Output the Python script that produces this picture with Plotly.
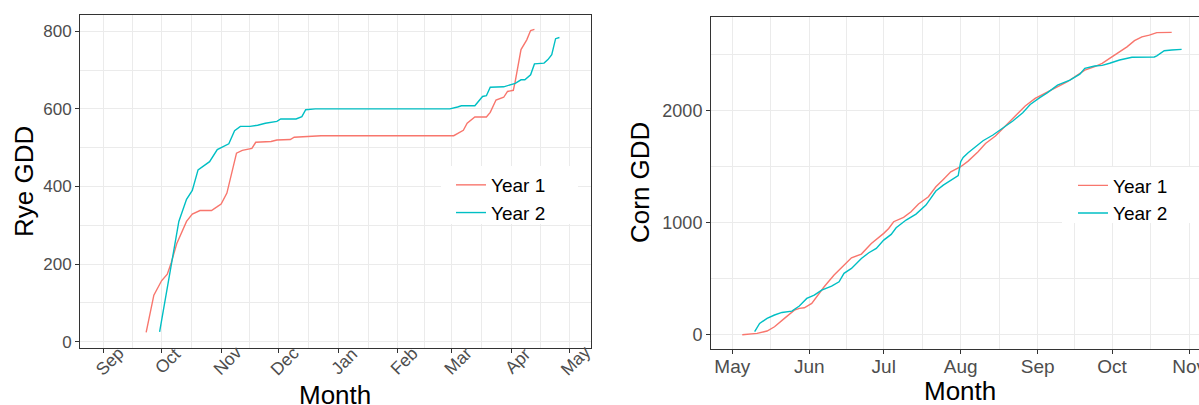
import plotly.graph_objects as go
import pandas as pd

# ---------------- data ----------------
# Rye (season Sep -> May), dates placed on a common dummy season 2000-2001
rye_y1_dates = ["2000-09-23","2000-09-27","2000-10-01","2000-10-04","2000-10-06","2000-10-09",
                "2000-10-14","2000-10-17","2000-10-21","2000-10-27","2000-10-30","2000-11-01",
                "2000-11-04","2000-11-06","2000-11-09","2000-11-12","2000-11-17","2000-11-19",
                "2000-11-27","2000-11-30","2000-12-07","2000-12-09","2000-12-21","2000-12-23",
                "2001-03-02","2001-03-05","2001-03-07","2001-03-09","2001-03-13","2001-03-19",
                "2001-03-21","2001-03-24","2001-03-28","2001-03-30","2001-04-02","2001-04-03",
                "2001-04-06","2001-04-09","2001-04-11","2001-04-13"]
rye_y1_gdd = [24,120,157,174,203,254,
              310,329,338,338,348,355,
              383,426,486,493,498,514,
              516,520,521,527,529,531,
              531,539,545,563,579,579,
              591,623,630,645,648,671,
              753,778,802,805]

rye_y2_dates = ["2000-09-30","2000-10-05","2000-10-08","2000-10-10","2000-10-14","2000-10-17",
                "2000-10-20","2000-10-23","2000-10-26","2000-10-30","2000-11-02","2000-11-05",
                "2000-11-08","2000-11-11","2000-11-16","2000-11-20","2000-11-24","2000-11-30",
                "2000-12-02","2000-12-10","2000-12-13","2000-12-15","2000-12-20","2001-02-28",
                "2001-03-04","2001-03-06","2001-03-13","2001-03-15","2001-03-17","2001-03-19",
                "2001-03-21","2001-03-28","2001-04-01","2001-04-03","2001-04-06","2001-04-08",
                "2001-04-11","2001-04-13","2001-04-18","2001-04-20","2001-04-22","2001-04-24",
                "2001-04-26"]
rye_y2_gdd = [25,168,245,310,367,390,
              443,453,464,495,502,510,
              544,555,555,558,563,568,
              574,574,580,598,600,600,
              605,608,608,619,632,634,
              656,657,662,666,675,675,
              688,716,718,727,740,781,
              784]

# Corn (season May -> Nov), common dummy year 2001
corn_y1_dates = ["2001-05-05","2001-05-08","2001-05-11","2001-05-15","2001-05-18","2001-05-22",
                 "2001-05-26","2001-05-28","2001-05-30","2001-06-02","2001-06-04","2001-06-07",
                 "2001-06-11","2001-06-15","2001-06-18","2001-06-22","2001-06-26","2001-07-01",
                 "2001-07-03","2001-07-05","2001-07-09","2001-07-12","2001-07-15","2001-07-19",
                 "2001-07-22","2001-07-25","2001-07-28","2001-08-01","2001-08-04","2001-08-08",
                 "2001-08-11","2001-08-15","2001-08-19","2001-08-23","2001-08-27","2001-08-31",
                 "2001-09-04","2001-09-09","2001-09-13","2001-09-17","2001-09-20","2001-09-24",
                 "2001-09-27","2001-09-30","2001-10-03","2001-10-07","2001-10-10","2001-10-13",
                 "2001-10-16","2001-10-19","2001-10-25"]
corn_y1_gdd = [0,3,12,33,71,146,
               220,235,241,280,339,428,
               533,622,687,720,815,905,
               949,1009,1048,1098,1167,1232,
               1321,1387,1455,1500,1550,1634,
               1708,1774,1863,1946,2042,2110,
               2155,2208,2259,2318,2363,2393,
               2422,2467,2512,2570,2625,2660,
               2675,2697,2699]

corn_y2_dates = ["2001-05-10","2001-05-12","2001-05-15","2001-05-17","2001-05-18","2001-05-21",
                 "2001-05-25","2001-05-28","2001-05-31","2001-06-03","2001-06-06","2001-06-10",
                 "2001-06-13","2001-06-15","2001-06-18","2001-06-22","2001-06-25","2001-06-28",
                 "2001-07-01","2001-07-04","2001-07-06","2001-07-10","2001-07-14","2001-07-18",
                 "2001-07-22","2001-07-25","2001-07-31","2001-08-01","2001-08-02","2001-08-04",
                 "2001-08-07","2001-08-10","2001-08-14","2001-08-18","2001-08-22","2001-08-26",
                 "2001-08-29","2001-09-02","2001-09-05","2001-09-09","2001-09-14","2001-09-18",
                 "2001-09-20","2001-09-24","2001-09-27","2001-09-30","2001-10-04","2001-10-09",
                 "2001-10-18","2001-10-19","2001-10-22","2001-10-25","2001-10-29"]
corn_y2_gdd = [27,101,146,167,176,199,
               211,256,324,354,399,434,
               473,548,592,681,732,771,
               845,896,955,1024,1077,1158,
               1283,1336,1420,1545,1583,1625,
               1678,1732,1783,1842,1908,1982,
               2056,2119,2161,2229,2274,2327,
               2378,2399,2405,2424,2453,2477,
               2480,2490,2536,2542,2548]

rye_month_ticks = ["2000-09-01","2000-10-01","2000-11-01","2000-12-01","2001-01-01",
                   "2001-02-01","2001-03-01","2001-04-01","2001-05-01"]
rye_month_labels = ["Sep","Oct","Nov","Dec","Jan","Feb","Mar","Apr","May"]
corn_month_ticks = ["2001-05-01","2001-06-01","2001-07-01","2001-08-01","2001-09-01",
                    "2001-10-01","2001-11-01"]
corn_month_labels = ["May","Jun","Jul","Aug","Sep","Oct","Nov"]
rye_y_ticks = [0,200,400,600,800]
rye_y_minor = [100,300,500,700]
corn_y_ticks = [0,1000,2000]
corn_y_minor = [500,1500,2500]
series_names = ["Year 1","Year 2"]

# ---------------- styling ----------------
W, H = 1199, 405
RED, CYAN = "#F8766D", "#00BFC4"
FONT = "Liberation Sans, Arial, Helvetica, sans-serif"
GRID = "#EBEBEB"
FRAME = "#333333"
TICKC = "#4D4D4D"
LW = 1.4

def mids(ticks):
    t = pd.to_datetime(ticks)
    return [(t[i] + (t[i+1]-t[i])/2).strftime("%Y-%m-%d %H:%M") for i in range(len(t)-1)]

def px(x):
    return x / W

def py(y):
    return 1 - y / H

fig = go.Figure()
fig.add_trace(go.Scatter(x=rye_y1_dates, y=rye_y1_gdd, mode="lines", name=series_names[0],
                         line=dict(color=RED, width=LW), xaxis="x", yaxis="y", legend="legend"))
fig.add_trace(go.Scatter(x=rye_y2_dates, y=rye_y2_gdd, mode="lines", name=series_names[1],
                         line=dict(color=CYAN, width=LW), xaxis="x", yaxis="y", legend="legend"))
fig.add_trace(go.Scatter(x=corn_y1_dates, y=corn_y1_gdd, mode="lines", name=series_names[0],
                         line=dict(color=RED, width=LW), xaxis="x2", yaxis="y2", legend="legend2"))
fig.add_trace(go.Scatter(x=corn_y2_dates, y=corn_y2_gdd, mode="lines", name=series_names[1],
                         line=dict(color=CYAN, width=LW), xaxis="x2", yaxis="y2", legend="legend2"))

common_axis = dict(showline=True, linecolor=FRAME, linewidth=1, ticks="outside", ticklen=4,
                   tickcolor=FRAME, tickwidth=1, showgrid=True, gridcolor=GRID, gridwidth=1.1,
                   zeroline=False, automargin=False, ticklabeloverflow="allow")

fig.update_layout(
    width=W, height=H, margin=dict(l=0, r=0, t=0, b=0, autoexpand=False),
    paper_bgcolor="white", plot_bgcolor="white",
    font=dict(family=FONT, color=TICKC),
    xaxis=dict(common_axis, domain=[px(80), px(591)], anchor="y", mirror=True, type="date",
               range=["2000-08-19 14:00", "2001-05-12 10:00"],
               tickmode="array", tickvals=rye_month_ticks, showticklabels=False,
               minor=dict(tickmode="array", tickvals=mids(rye_month_ticks), showgrid=True,
                          gridcolor=GRID, gridwidth=0.6, ticks="")),
    yaxis=dict(common_axis, domain=[py(347.7), py(15.3)], anchor="x", mirror=True,
               range=[-15.5, 841.3], tickmode="array", tickvals=rye_y_ticks,
               tickfont=dict(size=17, color=TICKC),
               minor=dict(tickmode="array", tickvals=rye_y_minor, showgrid=True,
                          gridcolor=GRID, gridwidth=0.6, ticks="")),
    xaxis2=dict(common_axis, domain=[px(711), 1.0], anchor="y2", mirror=True, type="date",
                range=["2001-04-22 10:00", "2001-11-05 00:00"],
                tickmode="array", tickvals=corn_month_ticks, ticktext=corn_month_labels,
                tickangle=0, tickfont=dict(size=19, color=TICKC), ticklabelstandoff=-4,
                minor=dict(tickmode="array", tickvals=mids(corn_month_ticks), showgrid=True,
                           gridcolor=GRID, gridwidth=0.6, ticks="")),
    yaxis2=dict(common_axis, domain=[py(349.3), py(17.3)], anchor="x2", mirror=False,
                range=[-130, 2834], tickmode="array", tickvals=corn_y_ticks,
                tickfont=dict(size=18, color=TICKC),
                minor=dict(tickmode="array", tickvals=corn_y_minor, showgrid=True,
                           gridcolor=GRID, gridwidth=0.6, ticks="")),
    legend=dict(x=px(451), y=py(199), xanchor="left", yanchor="middle",
                bgcolor="rgba(0,0,0,0)", font=dict(size=19, color="black", family=FONT),
                tracegroupgap=0),
    legend2=dict(x=px(1073), y=py(199.5), xanchor="left", yanchor="middle",
                 bgcolor="rgba(0,0,0,0)", font=dict(size=19, color="black", family=FONT),
                 tracegroupgap=0),
    showlegend=True,
)

# white legend key boxes (as in ggplot)
fig.add_shape(type="rect", xref="paper", yref="paper", x0=px(441), x1=px(578),
              y0=py(224), y1=py(166), fillcolor="white", line=dict(width=0), layer="above")
fig.add_shape(type="rect", xref="paper", yref="paper", x0=px(1062), x1=1.0,
              y0=py(223), y1=py(167), fillcolor="white", line=dict(width=0), layer="above")

# rotated month labels of the rye panel (ggplot style, 45 degrees)
for tv, tl in zip(rye_month_ticks, rye_month_labels):
    fig.add_annotation(text=tl, xref="x", yref="paper", x=tv, y=py(361), xshift=6,
                       showarrow=False, textangle=-45, font=dict(size=17.5, color=TICKC),
                       xanchor="center", yanchor="middle")

# axis titles
TITLE_SIZE = 26
fig.add_annotation(text="Rye GDD", xref="paper", yref="paper", x=px(24), y=py(182),
                   showarrow=False, textangle=-90, font=dict(size=TITLE_SIZE, color="black"),
                   xanchor="center", yanchor="middle")
fig.add_annotation(text="Month", xref="paper", yref="paper", x=px(335), y=py(395),
                   showarrow=False, font=dict(size=TITLE_SIZE, color="black"),
                   xanchor="center", yanchor="middle")
fig.add_annotation(text="Corn GDD", xref="paper", yref="paper", x=px(640), y=py(183),
                   showarrow=False, textangle=-90, font=dict(size=TITLE_SIZE, color="black"),
                   xanchor="center", yanchor="middle")
fig.add_annotation(text="Month", xref="paper", yref="paper", x=px(960), y=py(391),
                   showarrow=False, font=dict(size=TITLE_SIZE, color="black"),
                   xanchor="center", yanchor="middle")

fig.write_html("out.html")
